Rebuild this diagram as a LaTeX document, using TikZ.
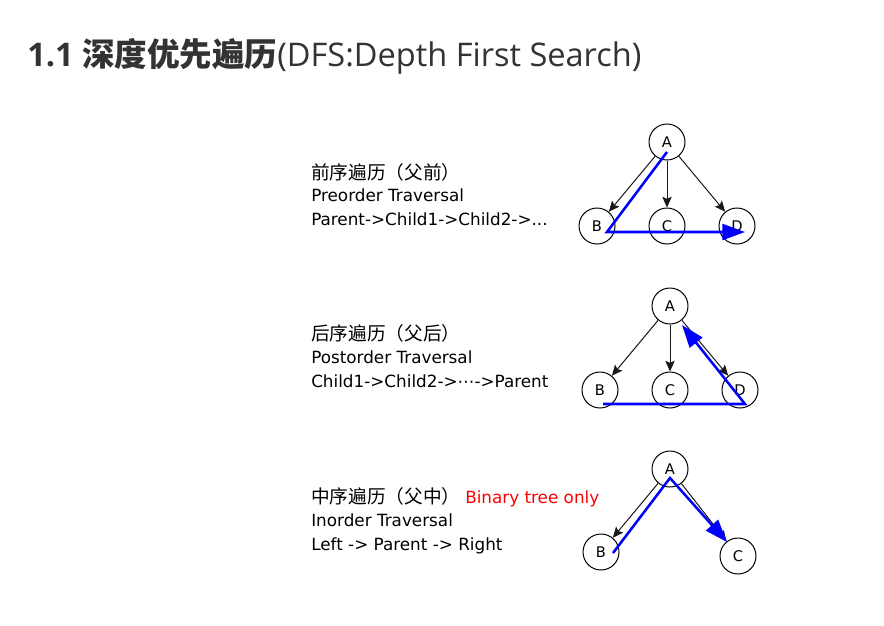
\documentclass[tikz,border=0pt]{standalone}
\usepackage{fontspec}
\setmainfont{DejaVu Sans}
\newfontfamily\cjk{Noto Sans CJK SC}
\newfontfamily\headfont{Open Sans}
\usetikzlibrary{arrows.meta}
\definecolor{headgray}{HTML}{333333}
\definecolor{walkblue}{HTML}{0000FF}
\begin{document}
\begin{tikzpicture}[x=0.75pt, y=-0.75pt,
  vertex/.style={draw, circle, line width=0.75pt, minimum size=27pt, inner sep=0pt,
    font=\fontsize{11}{11}\selectfont},
  tree/.style={-{Stealth[length=8pt, width=7pt, inset=1.5pt]}, line width=0.75pt, black!90},
  walk/.style={walkblue, line width=1.9pt},
  walkarrow/.style={walk, -{Triangle[length=17pt, width=12pt]}},
  txt/.style={anchor=base west, inner sep=0pt, font=\fontsize{12.6}{14}\selectfont},
  cjktxt/.style={txt, font=\fontsize{14}{16}\selectfont\cjk}]
\path[use as bounding box, fill=white] (0,0) rectangle (884,625);
% Titel
\node[anchor=base west, inner sep=0pt, text=headgray, font=\fontsize{24.4}{28}\selectfont\headfont]
  (title) at (27,66) {{\bfseries 1.1 }{\cjk\bfseries 深度优先遍历}(DFS:Depth First Search)};

% Preorder
\node[cjktxt] (pre1) at (311,179) {前序遍历（父前）};
\node[txt] (pre2) at (311,201) {Preorder Traversal};
\node[txt] (pre3) at (311,225) {Parent->Child1->Child2->...};
\begin{scope}[shift={(667,142)}]
\node[vertex] (pA) at (0,0) {A};
\node[vertex] (pB) at (-70,84) {B};
\node[vertex] (pC) at (0,84) {C};
\node[vertex] (pD) at (70,84) {D};
\end{scope}
\foreach \n in {pB,pC,pD} \draw[tree] (pA) -- (\n);
\draw[walkarrow] ([shift={(0,10)}]pA.center) -- ([shift={(10,6)}]pB.center)
  -- ([shift={(8,6)}]pD.center);

% Postorder
\node[cjktxt] (post1) at (311,340) {后序遍历（父后）};
\node[txt] (post2) at (311,363) {Postorder Traversal};
\node[txt] (post3) at (311,387) {Child1->Child2->⋯->Parent};
\begin{scope}[shift={(670,306)}]
\node[vertex] (qA) at (0,0) {A};
\node[vertex] (qB) at (-70,84) {B};
\node[vertex] (qC) at (0,84) {C};
\node[vertex] (qD) at (70,84) {D};
\end{scope}
\foreach \n in {qB,qC,qD} \draw[tree] (qA) -- (\n);
\draw[walkarrow] ([shift={(3,14)}]qB.center) -- ([shift={(5,14)}]qD.center)
  -- ([shift={(12,19)}]qA.center);

% Inorder
\node[cjktxt] (in1) at (311,503) {中序遍历（父中）};
\node[txt, text=red] (only) at (465,503) {Binary tree only};
\node[txt] (in2) at (311,526) {Inorder Traversal};
\node[txt] (in3) at (311,550) {Left -> Parent -> Right};
\begin{scope}[shift={(670,469)}]
\node[vertex] (rA) at (0,0) {A};
\node[vertex] (rB) at (-69,83) {B};
\node[vertex] (rC) at (68,87) {C};
\end{scope}
\foreach \n in {rB,rC} \draw[tree] (rA) -- (\n);
\draw[walkarrow] ([shift={(12,1)}]rB.center) -- ([shift={(0,9)}]rA.center)
  -- ([shift={(-11,-14)}]rC.center);
\end{tikzpicture}
\end{document}
